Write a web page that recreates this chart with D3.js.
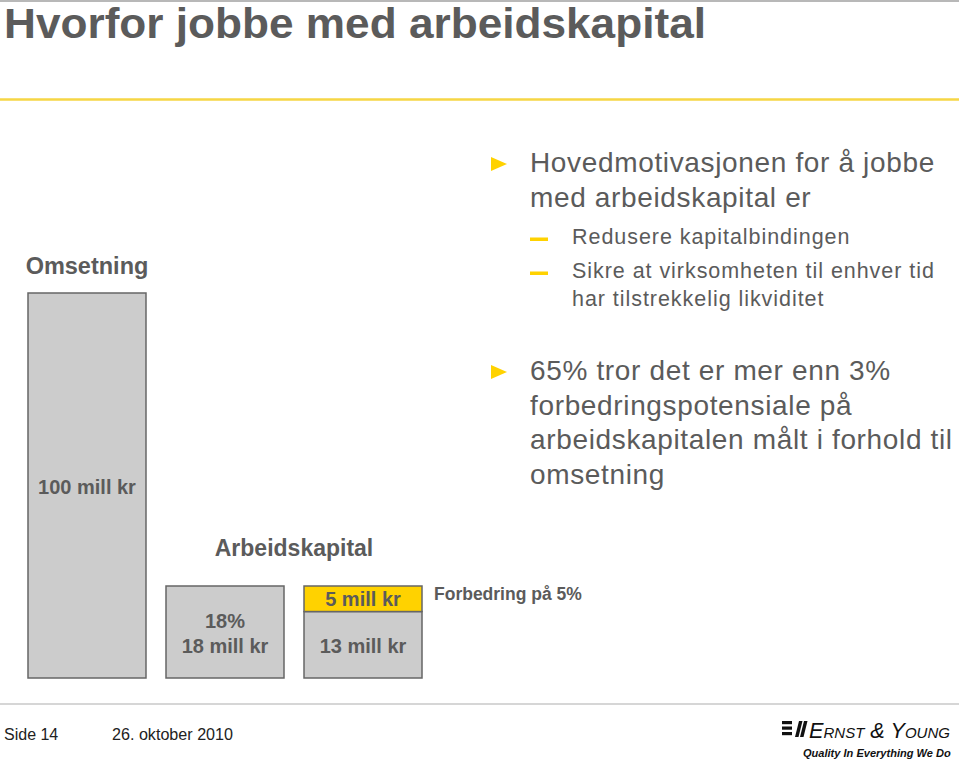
<!DOCTYPE html>
<html><head><meta charset="utf-8">
<script src="https://cdn.jsdelivr.net/npm/d3@7"></script>
<style>
html,body{margin:0;padding:0;background:#fff;}
svg{display:block;font-family:Arial,"Liberation Sans",Helvetica,sans-serif;}
</style></head>
<body>
<svg id="chart" width="959" height="763"></svg>
<script>
// ---- data ----
const title = "Hvorfor jobbe med arbeidskapital";
const categories = ["Omsetning", "Arbeidskapital", "Arbeidskapital forbedret"];
const baseValues = [100, 18, 13];          // grey part of each bar (mill kr)
const improvementValues = [0, 0, 5];       // yellow part (mill kr)
const barLabels = [["100 mill kr"], ["18%", "18 mill kr"], ["13 mill kr"]];
const improvementLabel = "5 mill kr";
const improvementNote = "Forbedring på 5%";
const groupLabel = "Arbeidskapital";
const bullets = [
  {main: ["Hovedmotivasjonen for å jobbe", "med arbeidskapital er"],
   subs: [["Redusere kapitalbindingen"], ["Sikre at virksomheten til enhver tid", "har tilstrekkelig likviditet"]]},
  {main: ["65% tror det er mer enn 3%", "forbedringspotensiale på", "arbeidskapitalen målt i forhold til", "omsetning"], subs: []}
];
const footerPage = "Side 14";
const footerDate = "26. oktober 2010";

// ---- drawing ----
const svg = d3.select("#chart");
const textCol = "#5b5b5b";
const yellow = "#ffd200";

svg.append("line").attr("x1",0).attr("x2",959).attr("y1",1).attr("y2",1)
  .attr("stroke","#a0a0a0").attr("stroke-width",1.5);
svg.append("text").attr("x",4).attr("y",38).text(title)
  .attr("font-size",42).attr("font-weight","bold").attr("fill",textCol)
  .attr("textLength",702).attr("lengthAdjust","spacingAndGlyphs");
svg.append("line").attr("x1",0).attr("x2",959).attr("y1",99.5).attr("y2",99.5)
  .attr("stroke","#f6d645").attr("stroke-width",2.5);

// scales
const x = d3.scaleBand().domain(categories).range([28,422]).paddingInner(0.145).paddingOuter(0);
const y = d3.scaleLinear().domain([0,18,100]).range([678,586,293]);

const g = svg.append("g");
// grey bars
g.selectAll("rect.base").data(categories).join("rect").attr("class","base")
  .attr("x",d=>x(d)).attr("width",x.bandwidth())
  .attr("y",(d,i)=>y(baseValues[i])).attr("height",(d,i)=>y(0)-y(baseValues[i]))
  .attr("fill","#cccccc").attr("stroke","#666").attr("stroke-width",1.5);
// yellow improvement
g.selectAll("rect.imp").data(categories.filter((d,i)=>improvementValues[i]>0)).join("rect").attr("class","imp")
  .attr("x",d=>x(d)).attr("width",x.bandwidth())
  .attr("y",d=>{const i=categories.indexOf(d);return y(baseValues[i]+improvementValues[i]);})
  .attr("height",d=>{const i=categories.indexOf(d);return y(baseValues[i])-y(baseValues[i]+improvementValues[i]);})
  .attr("fill",yellow).attr("stroke","#666").attr("stroke-width",1.5);

const bold = sel => sel.attr("font-weight","bold").attr("fill",textCol).attr("text-anchor","middle");
// category title above first bar
svg.append("text").attr("x",x(categories[0])+x.bandwidth()/2).attr("y",274).text(categories[0])
  .attr("font-size",23.5).call(bold);
// labels in bars
svg.append("text").attr("x",x(categories[0])+x.bandwidth()/2).attr("y",494).text(barLabels[0][0])
  .attr("font-size",20).call(bold);
svg.append("text").attr("x",x(categories[1])+x.bandwidth()/2).attr("y",628).text(barLabels[1][0])
  .attr("font-size",20).call(bold);
svg.append("text").attr("x",x(categories[1])+x.bandwidth()/2).attr("y",652.5).text(barLabels[1][1])
  .attr("font-size",20).call(bold);
svg.append("text").attr("x",x(categories[2])+x.bandwidth()/2).attr("y",652.5).text(barLabels[2][0])
  .attr("font-size",20).call(bold);
svg.append("text").attr("x",x(categories[2])+x.bandwidth()/2).attr("y",606).text(improvementLabel)
  .attr("font-size",20).call(bold);
svg.append("text").attr("x",(x(categories[1])+x(categories[2])+x.bandwidth())/2).attr("y",556).text(groupLabel)
  .attr("font-size",23).call(bold);
svg.append("text").attr("x",x(categories[2])+x.bandwidth()+12).attr("y",600).text(improvementNote)
  .attr("font-size",17.5).attr("font-weight","bold").attr("fill",textCol);

// right-hand bullet text
const rt = svg.append("g");
const mainBase = [172, 380];
bullets.forEach((b,bi)=>{
  let yy = mainBase[bi];
  rt.append("path").attr("d",`M491,${yy-15} L507,${yy-8} L491,${yy-1} Z`).attr("fill",yellow);
  b.main.forEach((line,li)=>{
    rt.append("text").attr("x",530).attr("y",yy+li*34.5).text(line)
      .attr("font-size",28).attr("fill",textCol).attr("letter-spacing",0.65);
  });
  let sy = yy + (b.main.length-1)*34.5 + 37;
  b.subs.forEach(sub=>{
    rt.append("rect").attr("x",530).attr("y",sy-6).attr("width",18).attr("height",3.5).attr("fill",yellow);
    sub.forEach((line,li)=>{
      rt.append("text").attr("x",572).attr("y",sy+li*28.5).text(line)
        .attr("font-size",21.5).attr("fill",textCol).attr("letter-spacing",0.95);
    });
    sy += (sub.length-1)*28.5 + 34;
  });
});

// footer
svg.append("line").attr("x1",0).attr("x2",959).attr("y1",704).attr("y2",704)
  .attr("stroke","#c8c8c8").attr("stroke-width",1.5);
svg.append("text").attr("x",4).attr("y",740).text(footerPage).attr("font-size",16).attr("fill","#222");
svg.append("text").attr("x",112).attr("y",740).text(footerDate).attr("font-size",16).attr("fill","#222")
  .attr("textLength",121).attr("lengthAdjust","spacingAndGlyphs");

// Ernst & Young logo
const logo = svg.append("g");
[0,1,2].forEach(i=>{
  logo.append("rect").attr("x",782).attr("y",721+i*5.5).attr("width",10).attr("height",3.2).attr("fill","#111");
});
logo.append("path").attr("d","M795,737 L798.5,737 L802.5,721 L799,721 Z").attr("fill","#111");
logo.append("path").attr("d","M800,737 L803.5,737 L807.5,721 L804,721 Z").attr("fill","#111");
function fitWidth(sel, target){
  const fs = +sel.attr("font-size");
  const w = sel.node().getComputedTextLength();
  if (w > 0) sel.attr("font-size", fs*target/w);
  return sel;
}
const ey = logo.append("text").attr("x",809).attr("y",738).text("Ernst & Young")
  .attr("font-size",24).attr("font-style","italic").attr("font-variant","small-caps").attr("fill","#111");
fitWidth(ey, 143);
const q = logo.append("text").attr("x",803).attr("y",757).text("Quality In Everything We Do")
  .attr("font-size",12.5).attr("font-style","italic").attr("font-weight","bold").attr("fill","#111");
fitWidth(q, 148);
</script>
</body></html>
